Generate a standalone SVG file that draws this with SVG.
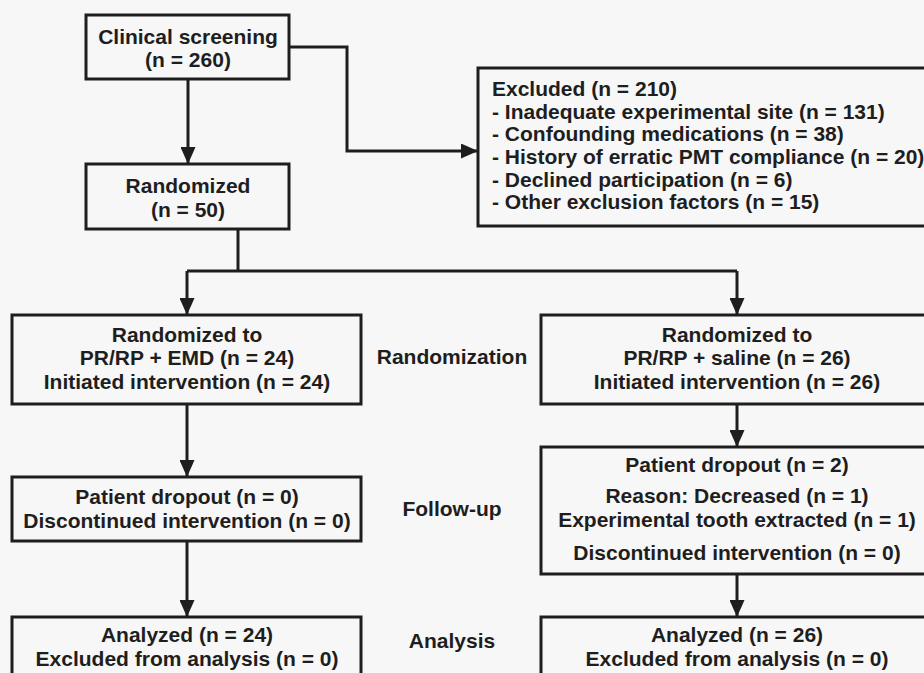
<svg xmlns="http://www.w3.org/2000/svg" width="924" height="673" viewBox="0 0 924 673">
<style>
.box{fill:none;stroke:#1e1e1e;stroke-width:3}
.c{fill:none;stroke:#1e1e1e;stroke-width:3}
text{font-family:"Liberation Sans",Arial,sans-serif;font-weight:bold;font-size:21px;fill:#1e1e1e}
.m{text-anchor:middle}
</style>
<defs>
<marker id="ah" markerUnits="userSpaceOnUse" markerWidth="17" markerHeight="15" viewBox="0 0 17 15" refX="17" refY="7.5" orient="auto">
<path d="M0,0 L17,7.5 L0,15 z" fill="#1e1e1e"/>
</marker>
</defs>
<rect width="924" height="673" fill="#f7f7f7"/>
<g id="connectors">
<path class="c" d="M188,79 V164" marker-end="url(#ah)"/>
<path class="c" d="M289,47 H347 V151 H478" marker-end="url(#ah)"/>
<path class="c" d="M238,229 V271"/>
<path class="c" d="M187,271 H737"/>
<path class="c" d="M187,271 V315" marker-end="url(#ah)"/>
<path class="c" d="M737,271 V315" marker-end="url(#ah)"/>
<path class="c" d="M187,404 V477" marker-end="url(#ah)"/>
<path class="c" d="M187,541 V617" marker-end="url(#ah)"/>
<path class="c" d="M737,404 V447" marker-end="url(#ah)"/>
<path class="c" d="M737,574 V617" marker-end="url(#ah)"/>
</g>
<g id="screening">
<rect class="box" x="86" y="15" width="203" height="64"/>
<text class="m" x="188" y="44">Clinical screening</text>
<text class="m" x="188" y="67">(n = 260)</text>
</g>
<g id="excluded">
<rect class="box" x="478" y="68" width="460" height="158"/>
<text x="492" y="96">Excluded (n = 210)</text>
<text x="492" y="119">- Inadequate experimental site (n = 131)</text>
<text x="492" y="141">- Confounding medications (n = 38)</text>
<text x="492" y="164">- History of erratic PMT compliance (n = 20)</text>
<text x="492" y="187">- Declined participation (n = 6)</text>
<text x="492" y="209">- Other exclusion factors (n = 15)</text>
</g>
<g id="randomized">
<rect class="box" x="86" y="164" width="203" height="65"/>
<text class="m" x="188" y="193">Randomized</text>
<text class="m" x="188" y="217">(n = 50)</text>
</g>
<g id="emd">
<rect class="box" x="12" y="315" width="349" height="89"/>
<text class="m" x="187" y="342">Randomized to</text>
<text class="m" x="187" y="365">PR/RP + EMD (n = 24)</text>
<text class="m" x="187" y="389">Initiated intervention (n = 24)</text>
</g>
<g id="saline">
<rect class="box" x="541" y="315" width="400" height="89"/>
<text class="m" x="737" y="342">Randomized to</text>
<text class="m" x="737" y="365">PR/RP + saline (n = 26)</text>
<text class="m" x="737" y="389">Initiated intervention (n = 26)</text>
</g>
<g id="stage-randomization"><text class="m" x="452" y="364">Randomization</text></g>
<g id="emd-followup">
<rect class="box" x="12" y="477" width="349" height="64"/>
<text class="m" x="187" y="504">Patient dropout (n = 0)</text>
<text class="m" x="187" y="528">Discontinued intervention (n = 0)</text>
</g>
<g id="saline-followup">
<rect class="box" x="541" y="447" width="400" height="127"/>
<text class="m" x="737" y="472">Patient dropout (n = 2)</text>
<text class="m" x="737" y="503">Reason: Decreased (n = 1)</text>
<text class="m" x="737" y="527">Experimental tooth extracted (n = 1)</text>
<text class="m" x="737" y="560">Discontinued intervention (n = 0)</text>
</g>
<g id="stage-followup"><text class="m" x="452" y="516">Follow-up</text></g>
<g id="emd-analysis">
<rect class="box" x="12" y="617" width="349" height="70"/>
<text class="m" x="187" y="642">Analyzed (n = 24)</text>
<text class="m" x="187" y="666">Excluded from analysis (n = 0)</text>
</g>
<g id="saline-analysis">
<rect class="box" x="541" y="617" width="400" height="70"/>
<text class="m" x="737" y="642">Analyzed (n = 26)</text>
<text class="m" x="737" y="666">Excluded from analysis (n = 0)</text>
</g>
<g id="stage-analysis"><text class="m" x="452" y="648">Analysis</text></g>
</svg>
